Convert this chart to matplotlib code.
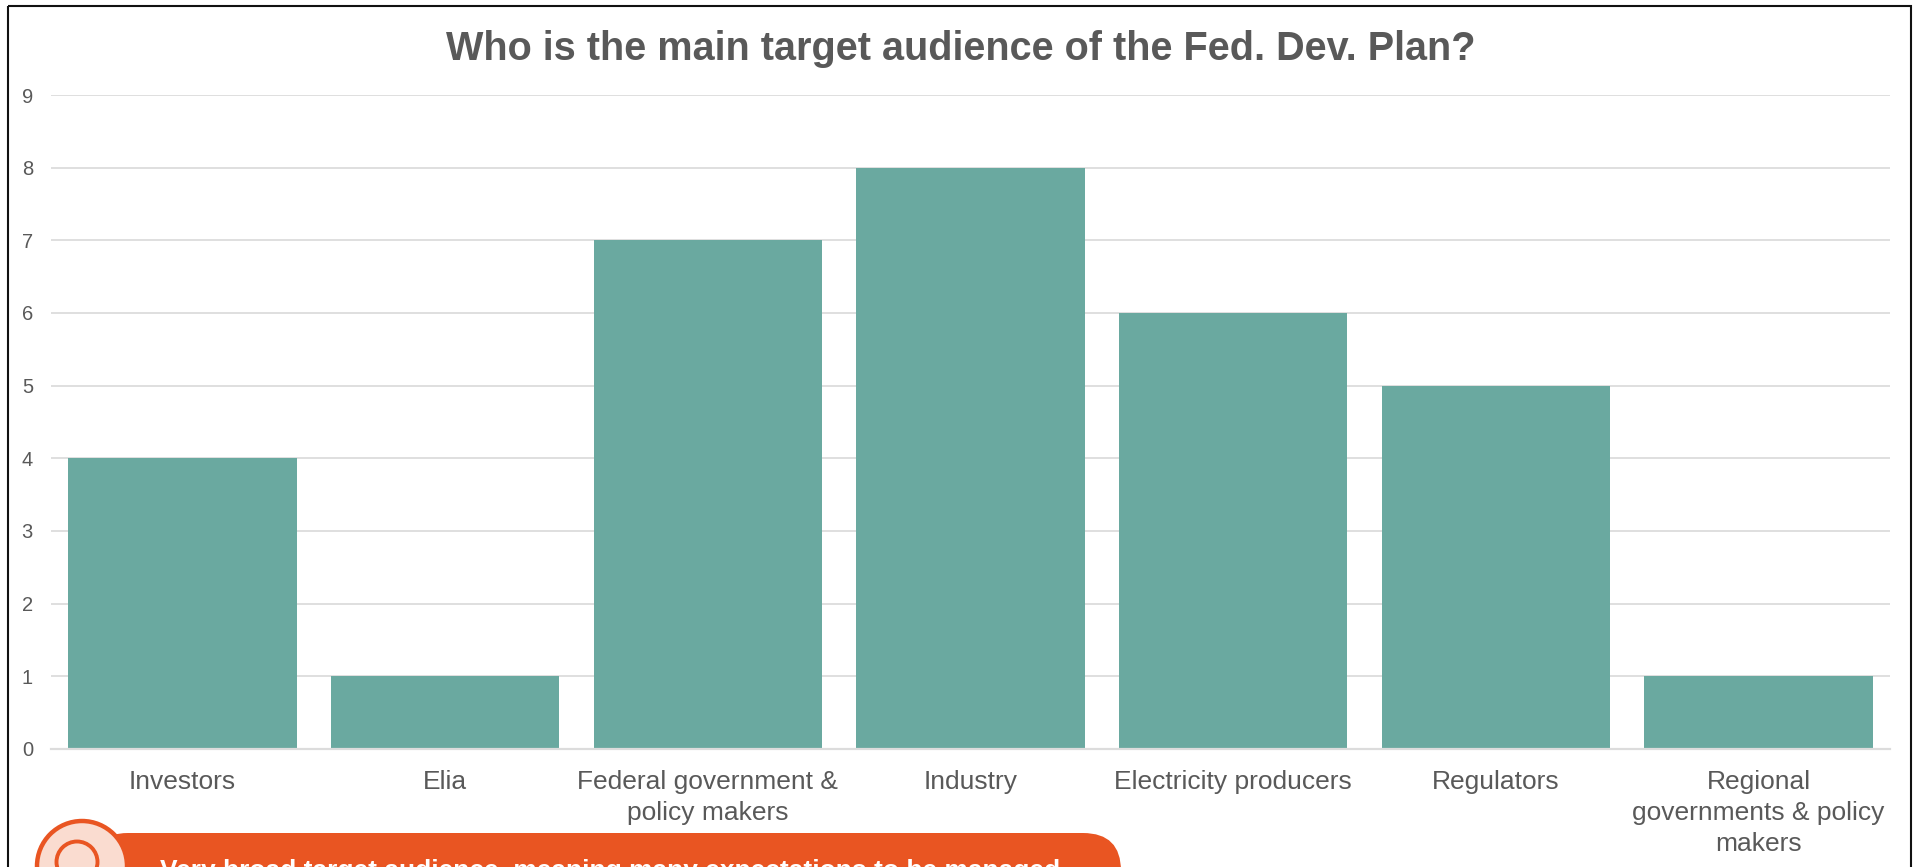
import matplotlib
matplotlib.use('Agg')
import matplotlib.pyplot as plt
from matplotlib.patches import Circle, FancyBboxPatch, Rectangle

plt.rcParams['font.family'] = ['Liberation Sans', 'DejaVu Sans']

W, H = 1916, 867

categories = [
    "Investors",
    "Elia",
    "Federal government &\npolicy makers",
    "Industry",
    "Electricity producers",
    "Regulators",
    "Regional\ngovernments & policy\nmakers",
]
responses = [4, 1, 7, 8, 6, 5, 1]
y_ticks = [0, 1, 2, 3, 4, 5, 6, 7, 8, 9]

title = "Who is the main target audience of the Fed. Dev. Plan?"
callout = "Very broad target audience, meaning many expectations to be managed"

TEXT = "#595959"
BAR = "#6AA9A0"
GRID = "#DCDCDC"
ORANGE = "#E95522"
PALE = "#FADCD0"

fig = plt.figure(figsize=(W / 100, H / 100), dpi=100, facecolor="white")

# Overlay in pixel coordinates for the frame and the callout
overlay = fig.add_axes([0, 0, 1, 1], zorder=3)
overlay.set_xlim(0, W)
overlay.set_ylim(H, 0)
overlay.axis("off")
overlay.patch.set_alpha(0)

overlay.add_patch(Rectangle((8.5, 6), 1902.5, H + 20, fill=False, ec="#111111", lw=1.5))

overlay.add_patch(FancyBboxPatch((90, 833), 1031, 120, boxstyle="round,pad=0,rounding_size=38",
                                 fc=ORANGE, ec="none", zorder=2))
overlay.add_patch(Circle((82, 866), 45, fc=PALE, ec=ORANGE, lw=3.2, zorder=3))
overlay.add_patch(Circle((77, 862), 20.5, fc="none", ec=ORANGE, lw=2.8, zorder=4))
overlay.text(160, 878, callout, color="white", fontsize=19, fontweight="bold",
             ha="left", va="baseline", zorder=5)

# Main chart, axes box runs along the gridline extents
ax = fig.add_axes([51 / W, 1 - 749 / H, (1890 - 51) / W, (749 - 95) / H])
x = range(len(categories))
ax.bar(x, responses, width=0.87, color=BAR, zorder=2)
ax.set_xlim(-0.5, len(categories) - 0.5)
ax.set_ylim(0, 9)
ax.set_yticks(y_ticks)
ax.set_xticks(list(x))
ax.set_xticklabels(categories, linespacing=1.36)
ax.grid(axis="y", color=GRID, lw=1.3, zorder=1)
ax.set_axisbelow(True)
ax.tick_params(axis="y", length=0, pad=13, labelsize=14.5, labelcolor=TEXT)
ax.tick_params(axis="x", length=0, pad=15, labelsize=19, labelcolor=TEXT)
for side in ["top", "left", "right"]:
    ax.spines[side].set_visible(False)
ax.spines["bottom"].set_color(GRID)
ax.spines["bottom"].set_linewidth(1.6)

fig.text(960.5 / W, 1 - 48.5 / H, title, color=TEXT, fontsize=28.55, fontweight="bold",
         ha="center", va="center")

fig.savefig("out.png", dpi=100)
